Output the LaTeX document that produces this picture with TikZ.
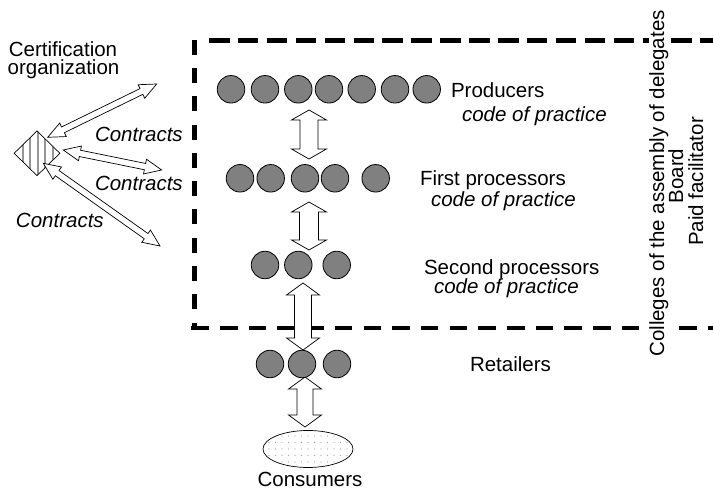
\documentclass[tikz,border=0pt]{standalone}
\usepackage{fontspec}
\setmainfont{Liberation Sans}
\usetikzlibrary{shapes.geometric,calc}
\definecolor{gray50}{RGB}{128,128,128}
\definecolor{stripecol}{RGB}{150,150,150}
\definecolor{dotcol}{RGB}{165,165,165}
\tikzset{
 lbl/.style={font=\fontsize{20.5}{22}\selectfont, inner sep=0pt, outer sep=0pt},
 ilbl/.style={lbl, font=\fontsize{20.5}{22}\selectfont\itshape},
 actor/.style={circle, draw=black, line width=0.8pt, fill=gray50, minimum size=27.5pt, inner sep=0pt},
 blockarr/.style={draw=black, fill=white, line width=0.7pt, line join=miter},
 dashline/.style={line width=4.5pt, draw=black},
}
% #1 from, #2 to, #3 shaft half width, #4 head half width, #5 head length
\newcommand\blockarrow[5]{%
  \draw[blockarr] let \p1=(#1), \p2=(#2),
      \n1={atan2(\y2-\y1,\x2-\x1)}, \n2={veclen(\x2-\x1,\y2-\y1)} in
    ([shift={(\p1)},rotate=\n1]0pt,0pt)
    -- ([shift={(\p1)},rotate=\n1]#5pt,#4pt)
    -- ([shift={(\p1)},rotate=\n1]#5pt,#3pt)
    -- ([shift={(\p1)},rotate=\n1]{\n2-#5pt},#3pt)
    -- ([shift={(\p1)},rotate=\n1]{\n2-#5pt},#4pt)
    -- ([shift={(\p1)},rotate=\n1]{\n2},0pt)
    -- ([shift={(\p1)},rotate=\n1]{\n2-#5pt},-#4pt)
    -- ([shift={(\p1)},rotate=\n1]{\n2-#5pt},-#3pt)
    -- ([shift={(\p1)},rotate=\n1]#5pt,-#3pt)
    -- ([shift={(\p1)},rotate=\n1]#5pt,-#4pt)
    -- cycle;
}
\begin{document}
\begin{tikzpicture}[x=1pt,y=-1pt]
\useasboundingbox (0,0) rectangle (713,489);

% dashed frame
\draw[dashline, dash pattern=on 20.5pt off 8.4pt] (209,40.5) -- (713,40.5);
\draw[dashline, dash pattern=on 15pt off 13.3pt] (194.5,39.7) -- (194.5,330);
\draw[dashline, dash pattern=on 17.5pt off 11.2pt] (191.3,328) -- (713,328);

% certification organization
\node[diamond, draw=black, line width=0.7pt, minimum width=46pt, minimum height=45pt,
      inner sep=0pt, aspect=1,
      path picture={\foreach \k in {-2,...,2}
        \draw[stripecol, line width=2.2pt]
          ([xshift=\k*7.5pt+0.7pt, yshift=-30pt]path picture bounding box.center)
          -- ([xshift=\k*7.5pt+0.7pt, yshift=30pt]path picture bounding box.center);}]
      (cert) at (37,153.3) {};
\node[lbl, anchor=base] (certlbl1) at (63,56.7) {Certification};
\node[lbl, anchor=base] (certlbl2) at (63.5,75) {organization};

% contract arrow ends
\coordinate (ca1) at (47.7,137.3);
\coordinate (ca2) at (156.7,84);
\coordinate (cb1) at (63.3,150);
\coordinate (cb2) at (161.7,170);
\coordinate (cc1) at (43.3,163.3);
\coordinate (cc2) at (160,246);
\blockarrow{ca1}{ca2}{3.2}{7.5}{17}
\blockarrow{cb1}{cb2}{3.2}{7.5}{17}
\blockarrow{cc1}{cc2}{3.2}{7.5}{17}
\node[ilbl, anchor=base west] (con1) at (95,142) {Contracts};
\node[ilbl, anchor=base west] (con2) at (95,190.7) {Contracts};
\node[ilbl, anchor=base west] (con3) at (16,228) {Contracts};

% vertical block arrows
\coordinate (v1a) at (309,110);
\coordinate (v1b) at (309,159);
\coordinate (v2a) at (309,202);
\coordinate (v2b) at (309,250);
\coordinate (v3a) at (303,283);
\coordinate (v3b) at (303,350);
\coordinate (v4a) at (305,377);
\coordinate (v4b) at (305,427);
\blockarrow{v1a}{v1b}{9}{17.5}{10}
\blockarrow{v2a}{v2b}{9.5}{17.5}{10}
\blockarrow{v3a}{v3b}{8.5}{16.5}{12}
\blockarrow{v4a}{v4b}{8}{16.5}{12}

% producers
\node[actor] (p1) at (231,89.3) {};
\node[actor] (p2) at (265,89.3) {};
\node[actor] (p3) at (298.3,89.3) {};
\node[actor] (p4) at (329,89.3) {};
\node[actor] (p5) at (361.7,89.3) {};
\node[actor] (p6) at (395,89.3) {};
\node[actor] (p7) at (426.7,89.3) {};
% first processors
\node[actor] (f1) at (240,178.3) {};
\node[actor] (f2) at (270.7,178.3) {};
\node[actor] (f3) at (305,178.3) {};
\node[actor] (f4) at (335,178.3) {};
\node[actor] (f5) at (375.7,178.3) {};
% second processors
\node[actor] (s1) at (265,265) {};
\node[actor] (s2) at (298.3,265) {};
\node[actor] (s3) at (336.7,265) {};
% retailers
\node[actor] (r1) at (270,364) {};
\node[actor] (r2) at (302,364) {};
\node[actor] (r3) at (337,364) {};

% consumers
\node[ellipse, draw=black, line width=0.7pt, minimum width=90pt, minimum height=37pt, inner sep=0pt,
      path picture={\foreach \i in {-7,...,7} \foreach \j in {-3,...,3}
        \fill[dotcol] ([xshift=\i*6.5pt, yshift=\j*6.5pt]path picture bounding box.center) circle (0.65pt);}]
      (cons) at (308,449) {};
\node[lbl, anchor=base] (conslbl) at (310,486) {Consumers};

% labels
\node[lbl, anchor=base west] (prodlbl) at (451,98) {Producers};
\node[ilbl, anchor=base west] (prodcode) at (462,121.7) {code of practice};
\node[lbl, anchor=base west] (firstlbl) at (420,186) {First processors};
\node[ilbl, anchor=base west] (firstcode) at (431,206.7) {code of practice};
\node[lbl, anchor=base west] (seclbl) at (424,275) {Second processors};
\node[ilbl, anchor=base west] (seccode) at (434,293.3) {code of practice};
\node[lbl, anchor=base west] (retlbl) at (470,371.7) {Retailers};

% governance (rotated)
\node[lbl, rotate=90, anchor=base, fill=white] (colleges) at (664,183.5) {Colleges of the assembly of delegates};
\node[lbl, rotate=90, anchor=base] (board) at (683,176) {Board};
\node[lbl, rotate=90, anchor=base] (paid) at (703,181.5) {Paid facilitator};
\end{tikzpicture}
\end{document}
